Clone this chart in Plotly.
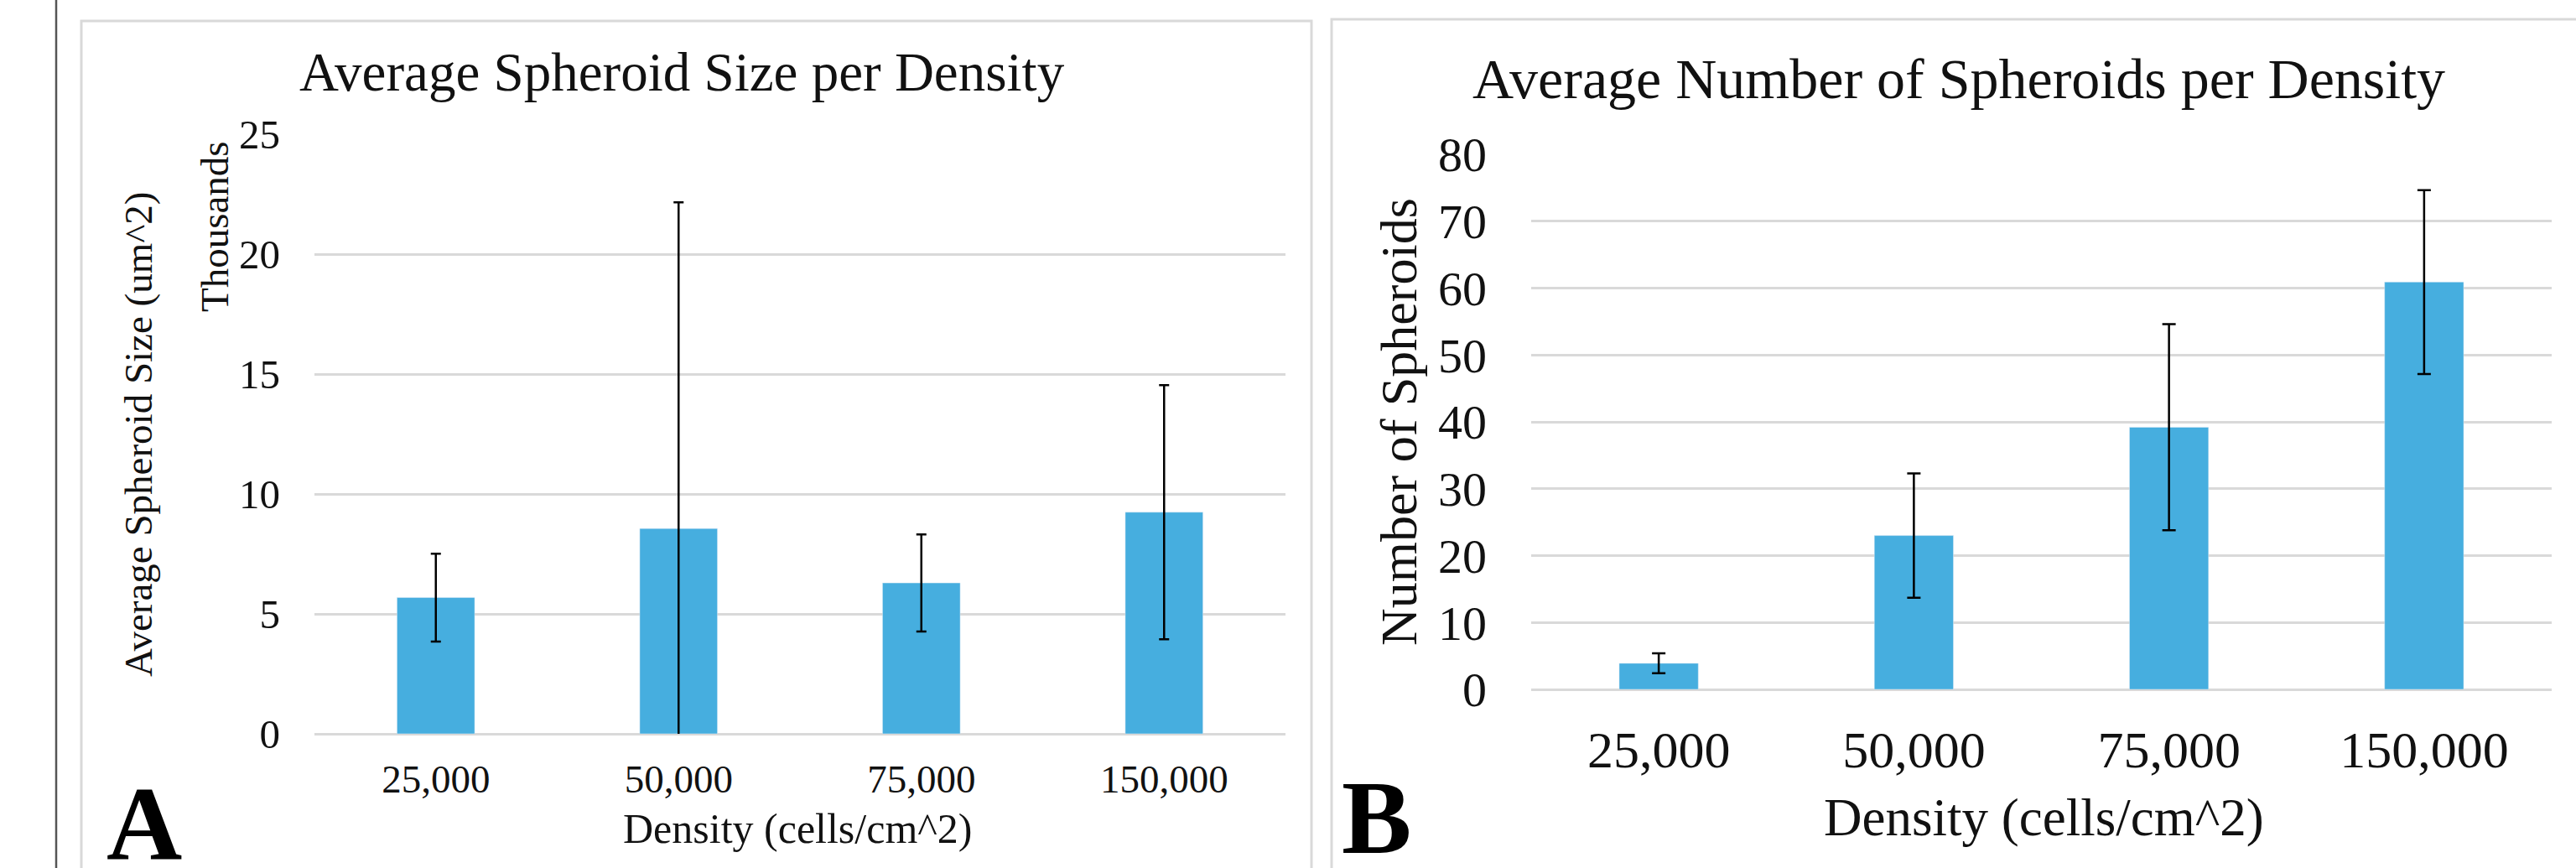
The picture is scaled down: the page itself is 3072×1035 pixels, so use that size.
import plotly.graph_objects as go

W, H = 3072, 1035

densities = ["25,000", "50,000", "75,000", "150,000"]
size_thousands = [5.68, 8.56, 6.29, 9.24]
size_err = [1.83, 13.6, 2.02, 5.3]
spheroid_count = [3.9, 23.0, 39.2, 60.9]
count_err = [1.5, 9.3, 15.4, 13.75]

size_ticks = [0, 5, 10, 15, 20, 25]
count_ticks = [0, 10, 20, 30, 40, 50, 60, 70, 80]

BAR = "#46AEDF"
GRID = "#d9d9d9"
FONT = "Liberation Serif"
TXT = "#111111"


def px(x):
    return x / W


def py(y):
    return 1 - y / H


fig = go.Figure()
fig.add_trace(go.Bar(
    x=densities, y=size_thousands, width=0.32, marker_color=BAR,
    error_y=dict(type="data", array=size_err, color="black", thickness=2.5, width=6),
    xaxis="x", yaxis="y", showlegend=False,
))
fig.add_trace(go.Bar(
    x=densities, y=spheroid_count, width=0.31, marker_color=BAR,
    error_y=dict(type="data", array=count_err, color="black", thickness=2.5, width=8),
    xaxis="x2", yaxis="y2", showlegend=False,
))

axis_common = dict(showgrid=True, gridcolor=GRID, gridwidth=2.5, zeroline=True,
                   zerolinecolor=GRID, zerolinewidth=2.5, showline=False, ticks="",
                   fixedrange=True, automargin=False)

fig.update_layout(
    width=W, height=H,
    margin=dict(l=0, r=0, t=0, b=0, pad=0, autoexpand=False),
    paper_bgcolor="white", plot_bgcolor="white",
    xaxis=dict(domain=[px(375), px(1533)], anchor="y", showgrid=False, zeroline=False,
               ticks="", automargin=False, fixedrange=True,
               tickfont=dict(family=FONT, size=47, color=TXT), ticklabelstandoff=22),
    yaxis=dict(domain=[py(875), py(160)], anchor="x", range=[0, 25], tickvals=size_ticks,
               tickfont=dict(family=FONT, size=49, color=TXT), ticklabelstandoff=40, **axis_common),
    xaxis2=dict(domain=[px(1826), px(3043)], anchor="y2", showgrid=False, zeroline=False,
                ticks="", automargin=False, fixedrange=True,
                tickfont=dict(family=FONT, size=62, color=TXT), ticklabelstandoff=30),
    yaxis2=dict(domain=[py(822), py(184)], anchor="x2", range=[0, 80], tickvals=count_ticks,
                tickfont=dict(family=FONT, size=58, color=TXT), ticklabelstandoff=52, **axis_common),
)

shapes = [
    dict(type="line", xref="paper", yref="paper", x0=px(67), x1=px(67), y0=-0.05, y1=1.05,
         line=dict(color="#555555", width=2.5)),
    dict(type="rect", xref="paper", yref="paper", x0=px(97), x1=px(1564), y0=py(1050), y1=py(25),
         line=dict(color=GRID, width=3)),
    dict(type="rect", xref="paper", yref="paper", x0=px(1588), x1=px(3090), y0=py(1050), y1=py(23),
         line=dict(color=GRID, width=3)),
]
fig.update_layout(shapes=shapes)


def ann(text, x, y, size, angle=0, bold=False):
    return dict(text=f"<b>{text}</b>" if bold else text, xref="paper", yref="paper",
                x=px(x), y=py(y), xanchor="center", yanchor="middle", showarrow=False,
                textangle=angle, font=dict(family=FONT, size=size, color="black" if bold else TXT))


fig.update_layout(annotations=[
    ann("Average Spheroid Size per Density", 813, 86, 65),
    ann("Average Spheroid Size (um^2)", 165, 518, 47, angle=-90),
    ann("Thousands", 256, 270, 47, angle=-90),
    ann("Density (cells/cm^2)", 951, 988, 50),
    ann("A", 172, 982, 125, bold=True),
    ann("Average Number of Spheroids per Density", 2336, 94, 68),
    ann("Number of Spheroids", 1668, 503, 62, angle=-90),
    ann("Density (cells/cm^2)", 2437, 975, 63),
    ann("B", 1641, 975, 125, bold=True),
])

fig.write_html("out.html")
